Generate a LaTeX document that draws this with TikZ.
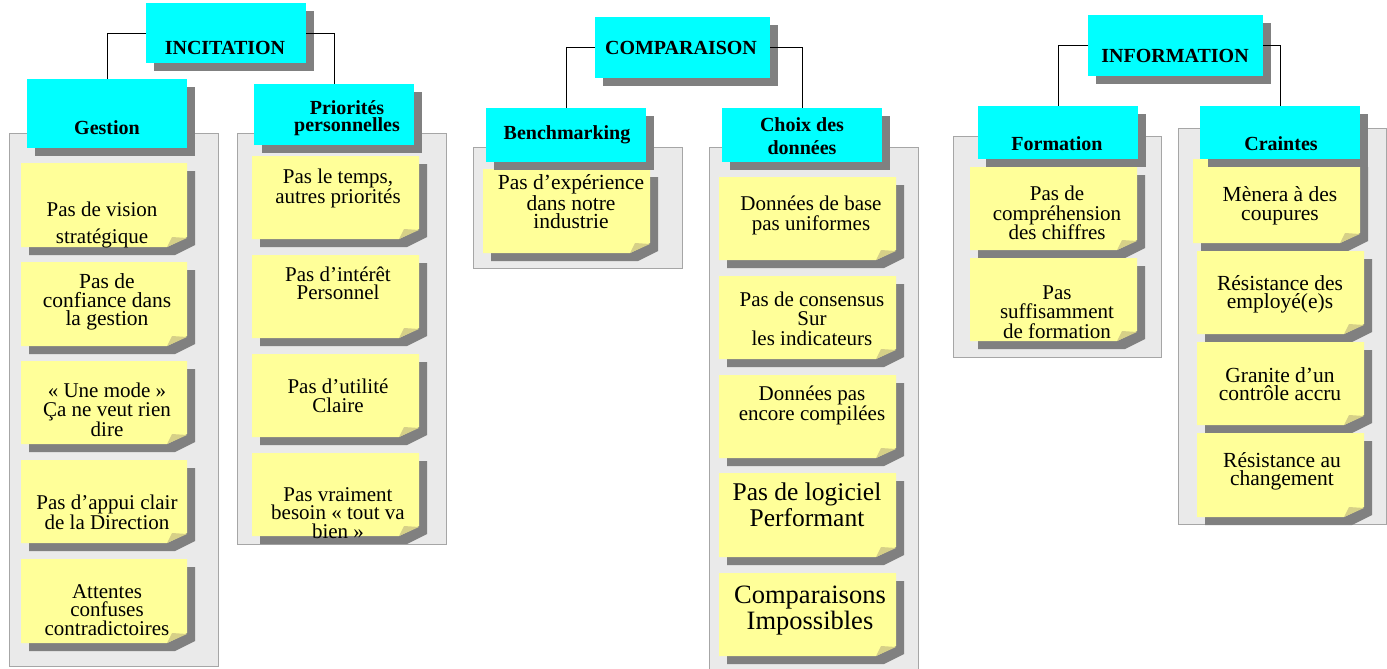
\documentclass[tikz,border=0pt]{standalone}
\usepackage{fontspec}
\setmainfont{Liberation Serif}
\usetikzlibrary{shadows}

\definecolor{hdrcyan}{HTML}{00FFFF}
\definecolor{shadowgray}{HTML}{808080}
\definecolor{notey}{HTML}{FFFF99}
\definecolor{foldc}{HTML}{D6D088}
\definecolor{panelfill}{HTML}{EAEAEA}
\definecolor{panelline}{HTML}{A6A6A6}

\tikzset{
  hdrbox/.style={fill=hdrcyan, draw=none, inner sep=0pt,
    general shadow={fill=shadowgray, shadow xshift=8pt, shadow yshift=-8pt}},
  hdrtext/.style={font=\bfseries\fontsize{20}{20}\selectfont, align=center, inner sep=0pt},
  notetext/.style={font=\fontsize{21}{18.5}\selectfont, align=center, inner sep=0pt},
  bignote/.style={font=\fontsize{21.5}{18.5}\selectfont, align=center, inner sep=0pt},
  panel/.style={fill=panelfill, draw=panelline, line width=1pt},
  link/.style={draw=black, line width=0.9pt},
}

% sticky note with a folded lower-right corner and a drop shadow
% #1,#2 = upper-left corner, #3,#4 = lower-right corner
\newcommand\stickynote[4]{%
  \fill[shadowgray] (#1+8,#2+8) -- (#3+8,#2+8) -- (#3+8,#4-2) -- (#3-12,#4+8) -- (#1+8,#4+8) -- cycle;
  \fill[notey] (#1,#2) -- (#3,#2) -- (#3,#4-10) -- (#3-20,#4) -- (#1,#4) -- cycle;
  \fill[foldc] (#3-20,#4) -- (#3-15,#4-10) -- (#3,#4-9) -- cycle;}

\begin{document}
\begin{tikzpicture}[x=1pt, y=-1pt]
\useasboundingbox (0,0) rectangle (1387,669);
\fill[white] (0,0) rectangle (1387,669);

% grey panels behind each column
\draw[panel] (9,133) rectangle (218,666);
\draw[panel] (237,133) rectangle (446,544);
\draw[panel] (473,147) rectangle (682,268);
\draw[panel] (709,147) rectangle (918,675);
\draw[panel] (953,136) rectangle (1161,357);
\draw[panel] (1178,128) rectangle (1386,524);

% notes: Gestion
\stickynote{21}{163}{187}{247}
\stickynote{21}{262}{187}{346}
\stickynote{21}{361}{187}{444}
\stickynote{21}{460}{187}{543}
\stickynote{21}{559}{187}{643}
% notes: Priorités personnelles
\stickynote{252}{156}{419}{239}
\stickynote{252}{255}{419}{338}
\stickynote{252}{354}{419}{437}
\stickynote{252}{453}{419}{536}
% notes: Benchmarking
\stickynote{483}{169}{650}{253}
% notes: Choix des données
\stickynote{719}{177}{896}{260}
\stickynote{719}{276}{896}{359}
\stickynote{719}{375}{896}{458}
\stickynote{719}{473}{896}{557}
\stickynote{719}{573}{896}{656}
% notes: Formation
\stickynote{970}{167}{1137}{250}
\stickynote{970}{258}{1137}{341}
% notes: Craintes
\stickynote{1193}{159}{1360}{243}
\stickynote{1197}{251}{1364}{334}
\stickynote{1197}{342}{1364}{425}
\stickynote{1197}{433}{1364}{517}

% note texts
\node[notetext, font=\fontsize{21}{27}\selectfont] (g1) at (102,224.5) {Pas de vision\\stratégique};
\node[bignote] (g2) at (107,302) {Pas de\\confiance dans\\la gestion};
\node[notetext] (g3) at (107,410) {« Une mode »\\Ça ne veut rien\\dire};
\node[notetext] (g4) at (107,512) {Pas d’appui clair\\de la Direction};
\node[notetext] (g5) at (107,610) {Attentes\\confuses\\contradictoires};

\node[notetext] (p1) at (338,188.5) {Pas le temps,\\autres priorités};
\node[notetext] (p2) at (338,283.5) {Pas d’intérêt\\Personnel};
\node[notetext] (p3) at (338,396) {Pas d’utilité\\Claire};
\node[notetext] (p4) at (338,513) {Pas vraiment\\besoin « tout va\\bien »};

\node[bignote] (b1) at (571,202) {Pas d’expérience\\dans notre\\industrie};

\node[notetext, font=\fontsize{21}{20}\selectfont] (c1) at (811,215) {Données de base\\pas uniformes};
\node[notetext, font=\fontsize{21}{19.5}\selectfont] (c2) at (812,318.5) {Pas de consensus\\Sur\\les indicateurs};
\node[notetext, font=\fontsize{21}{18}\selectfont] (c3) at (812,405) {Données pas\\encore compilées};
\node[notetext, font=\fontsize{25.5}{26}\selectfont] (c4) at (807,505) {Pas de logiciel\\Performant};
\node[notetext, font=\fontsize{26.5}{26}\selectfont] (c5) at (810,611) {Comparaisons\\Impossibles};

\node[notetext, font=\fontsize{21}{19.5}\selectfont] (f1) at (1057,213) {Pas de\\compréhension\\des chiffres};
\node[notetext, font=\fontsize{21}{19.5}\selectfont] (f2) at (1057,312) {Pas\\suffisamment\\de formation};

\node[bignote] (k1) at (1280,206) {Mènera à des\\coupures};
\node[bignote] (k2) at (1280,294.5) {Résistance des\\employé(e)s};
\node[bignote] (k3) at (1280,384) {Granite d’un\\contrôle accru};
\node[bignote] (k4) at (1282,471.5) {Résistance au\\changement};

% header boxes
\node[hdrbox, minimum width=160pt, minimum height=60pt] (incit) at (226,33) {};
\node[hdrbox, minimum width=160pt, minimum height=69pt] (gest) at (107,113.5) {};
\node[hdrbox, minimum width=160pt, minimum height=61pt] (prio) at (334,114.5) {};
\node[hdrbox, minimum width=175pt, minimum height=61pt] (compa) at (682.5,47.5) {};
\node[hdrbox, minimum width=160pt, minimum height=54pt] (bench) at (566,135) {};
\node[hdrbox, minimum width=160pt, minimum height=54pt] (choix) at (802,135) {};
\node[hdrbox, minimum width=175pt, minimum height=61pt] (info) at (1175.5,45.5) {};
\node[hdrbox, minimum width=160pt, minimum height=53pt] (form) at (1058,132.5) {};
\node[hdrbox, minimum width=160pt, minimum height=53pt] (crain) at (1280,132.5) {};

% connectors
\draw[link] (incit.west) -| (gest.north);
\draw[link] (incit.east) -| (prio.north);
\draw[link] (compa.west) -| (bench.north);
\draw[link] (compa.east) -| (choix.north);
\draw[link] (info.west) -| (form.north);
\draw[link] (info.east) -| (crain.north);

% header texts
\node[hdrtext] (tincit) at (225,48) {INCITATION};
\node[hdrtext] (tgest) at (107,128) {Gestion};
\node[hdrtext, font=\bfseries\fontsize{20}{17}\selectfont] (tprio) at (347,118) {Priorités\\personnelles};
\node[hdrtext] (tcompa) at (681,48) {COMPARAISON};
\node[hdrtext] (tbench) at (567,135) {Benchmarking};
\node[hdrtext, font=\bfseries\fontsize{20}{23}\selectfont] (tchoix) at (802,136.5) {Choix des\\données};
\node[hdrtext] (tinfo) at (1175,56) {INFORMATION};
\node[hdrtext] (tform) at (1057,144) {Formation};
\node[hdrtext] (tcrain) at (1281,144) {Craintes};
\end{tikzpicture}
\end{document}
